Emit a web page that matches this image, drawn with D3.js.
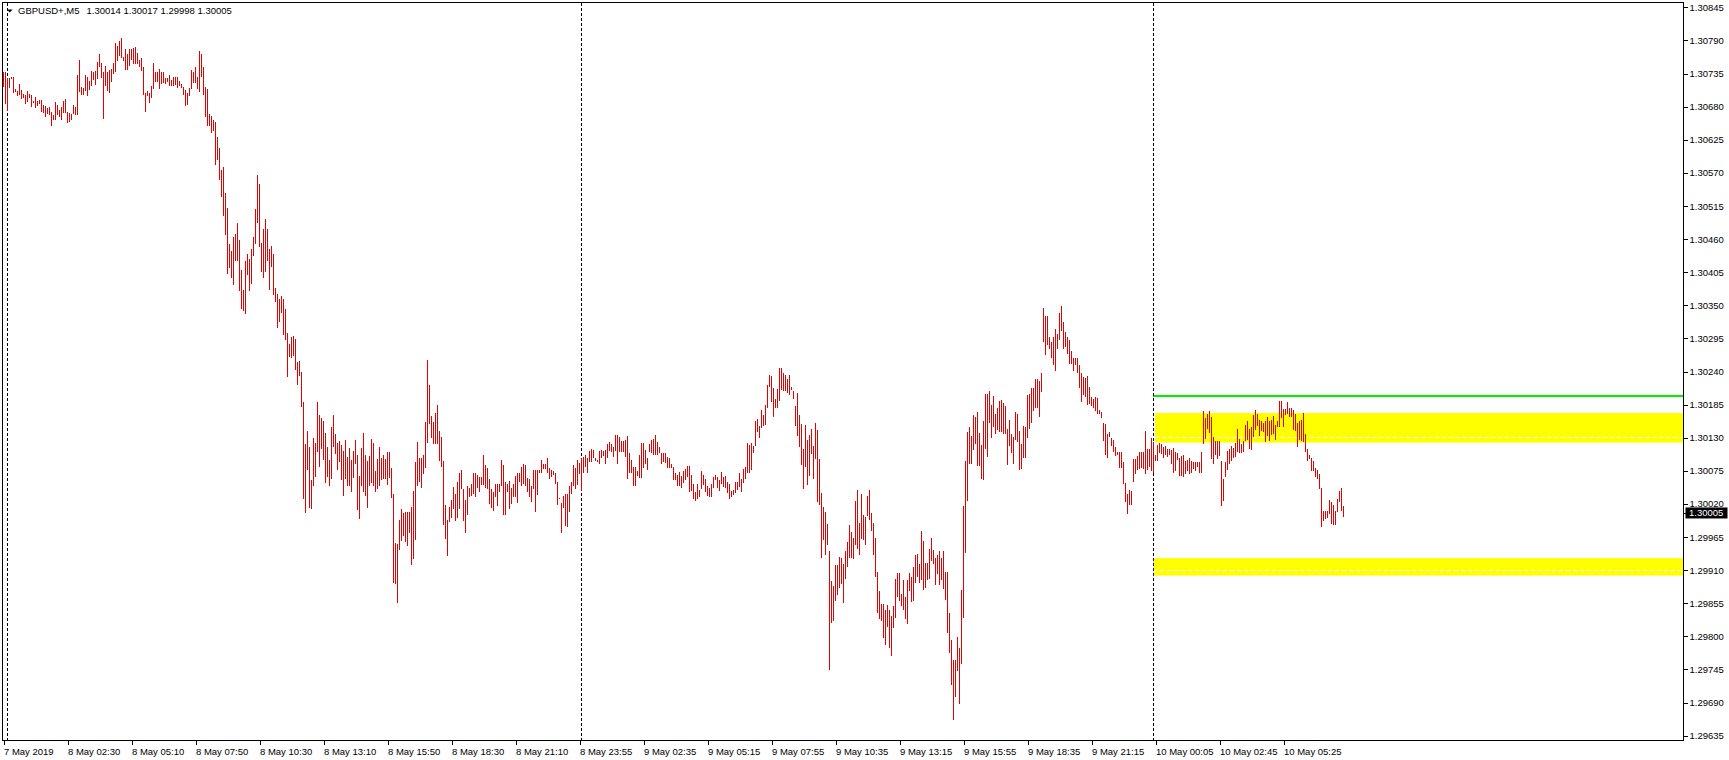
<!DOCTYPE html>
<html><head><meta charset="utf-8">
<script src="https://cdn.jsdelivr.net/npm/d3@7"></script>
<style>
html,body{margin:0;padding:0;background:#fff;}
svg{display:block;}
text{font-family:"Liberation Sans",Arial,sans-serif;font-size:9.5px;fill:#000;}
</style>
</head><body>
<svg id="chart" width="1729" height="760"></svg>
<script>
// ---------------- DATA ----------------
const symbol = "GBPUSD+,M5";
const lastOHLC = [1.30014, 1.30017, 1.29998, 1.30005];

const high = [
1.30737,1.30738,1.30727,1.30727,1.30729,1.30729,1.30709,1.30706,1.30717,1.30708,
1.30701,1.30699,1.30706,1.30701,1.30699,1.30689,1.30696,1.30689,1.30691,1.30691,
1.30683,1.30681,1.30678,1.30680,1.30671,1.30666,1.30688,1.30683,1.30675,1.30680,
1.30689,1.30692,1.30671,1.30669,1.30667,1.30683,1.30680,1.30732,1.30757,1.30713,
1.30711,1.30732,1.30729,1.30722,1.30740,1.30738,1.30740,1.30754,1.30767,1.30753,
1.30737,1.30748,1.30738,1.30741,1.30743,1.30753,1.30786,1.30781,1.30789,1.30794,
1.30763,1.30776,1.30767,1.30776,1.30775,1.30778,1.30779,1.30769,1.30758,1.30761,
1.30746,1.30703,1.30706,1.30703,1.30715,1.30752,1.30738,1.30738,1.30743,1.30737,
1.30738,1.30727,1.30727,1.30732,1.30724,1.30730,1.30730,1.30730,1.30722,1.30717,
1.30712,1.30708,1.30703,1.30711,1.30741,1.30738,1.30746,1.30730,1.30772,1.30767,
1.30746,1.30713,1.30709,1.30668,1.30665,1.30657,1.30654,1.30629,1.30611,1.30575,
1.30579,1.30536,1.30512,1.30452,1.30440,1.30464,1.30469,1.30487,1.30458,1.30408,
1.30375,1.30424,1.30435,1.30427,1.30444,1.30464,1.30510,1.30567,1.30552,1.30454,
1.30477,1.30493,1.30477,1.30444,1.30449,1.30435,1.30378,1.30369,1.30360,1.30366,
1.30360,1.30343,1.30304,1.30285,1.30297,1.30299,1.30294,1.30256,1.30257,1.30239,
1.30190,1.30120,1.30141,1.30115,1.30059,1.30129,1.30121,1.30190,1.30167,1.30163,
1.30157,1.30138,1.30115,1.30093,1.30147,1.30167,1.30136,1.30122,1.30124,
1.30118,1.30108,1.30126,1.30098,1.30113,1.30093,1.30108,1.30126,1.30102,1.30066,
1.30113,1.30138,1.30102,1.30092,1.30099,1.30128,1.30122,1.30075,1.30095,1.30115,
1.30097,1.30102,1.30095,1.30106,1.30106,1.30079,1.30036,1.29955,1.29953,1.29993,
1.30012,1.30005,1.30006,1.30006,1.30007,1.30015,1.30041,1.30089,1.30123,1.30097,
1.30097,1.30101,1.30156,1.30259,1.30218,1.30166,1.30156,1.30171,1.30185,1.30141,
1.30131,1.30091,1.30018,1.29993,1.30015,1.30026,1.30048,1.30036,1.30056,1.30071,
1.30076,1.30045,1.30026,1.30050,1.30046,1.30053,1.30071,1.30072,1.30068,1.30064,
1.30065,1.30102,1.30084,1.30080,1.30061,1.30045,1.30040,1.30053,1.30053,1.30053,
1.30093,1.30085,1.30057,1.30053,1.30058,1.30047,1.30053,1.30066,1.30072,1.30072,
1.30082,1.30086,1.30084,1.30063,1.30062,1.30050,1.30076,1.30076,1.30076,1.30076,
1.30093,1.30086,1.30086,1.30097,1.30079,1.30076,1.30075,1.30072,1.30056,1.30030,
1.30021,1.30034,1.30036,1.30036,1.30049,1.30056,1.30084,1.30079,1.30093,1.30088,
1.30097,1.30098,1.30101,1.30096,1.30108,1.30111,1.30110,1.30097,1.30093,1.30108,
1.30110,1.30108,1.30110,1.30120,1.30123,1.30119,1.30115,1.30134,1.30134,1.30132,
1.30125,1.30125,1.30126,1.30133,1.30104,1.30093,1.30082,1.30082,1.30075,1.30101,
1.30122,1.30122,1.30110,1.30097,1.30120,1.30126,1.30128,1.30134,1.30123,1.30115,
1.30104,1.30104,1.30104,1.30098,1.30096,1.30087,1.30081,1.30072,1.30068,1.30073,
1.30066,1.30075,1.30078,1.30083,1.30083,1.30068,1.30053,1.30039,1.30053,1.30043,
1.30075,1.30068,1.30061,1.30049,1.30047,1.30053,1.30064,1.30068,1.30064,1.30060,
1.30073,1.30064,1.30066,1.30056,1.30053,1.30042,1.30043,1.30056,1.30056,1.30071,
1.30061,1.30078,1.30082,1.30121,1.30118,1.30122,1.30116,1.30157,1.30161,1.30150,
1.30176,1.30167,1.30184,1.30218,1.30234,1.30232,1.30212,1.30194,1.30211,1.30245,
1.30245,1.30237,1.30234,1.30227,1.30234,1.30215,1.30208,1.30183,1.30205,1.30168,
1.30153,1.30111,1.30151,1.30126,1.30134,1.30144,1.30116,1.30155,1.30143,1.30095,
1.30038,1.30015,1.30007,1.29987,1.29942,1.29892,1.29884,1.29919,1.29919,1.29932,
1.29931,1.29921,1.29942,1.29956,1.29985,1.29974,1.29963,1.30025,1.30043,1.29989,
1.30036,1.30002,1.29998,1.30033,1.30043,1.30005,1.29989,1.29964,1.29907,1.29875,
1.29854,1.29854,1.29843,1.29852,1.29843,1.29834,1.29850,1.29895,1.29906,1.29906,
1.29871,1.29893,1.29865,1.29894,1.29906,1.29899,1.29915,1.29935,1.29937,1.29921,
1.29975,1.29958,1.29922,1.29922,1.29945,1.29964,1.29943,1.29931,1.29935,1.29942,
1.29931,1.29941,1.29907,1.29907,1.29839,1.29794,1.29761,1.29761,1.29799,1.29781,
1.29877,1.30017,1.30092,1.30140,1.30147,1.30133,1.30168,1.30165,1.30172,1.30138,
1.30118,1.30158,1.30203,1.30203,1.30208,1.30184,1.30199,1.30169,1.30180,1.30191,
1.30193,1.30188,1.30183,1.30144,1.30159,1.30136,1.30131,1.30172,1.30169,1.30141,
1.30120,1.30149,1.30147,1.30201,1.30202,1.30212,1.30213,1.30227,1.30227,1.30224,
1.30238,1.30346,1.30333,1.30332,1.30298,1.30289,1.30297,1.30310,1.30302,1.30338,
1.30349,1.30322,1.30305,1.30297,1.30292,1.30274,1.30263,1.30263,1.30262,1.30250,
1.30238,1.30231,1.30230,1.30233,1.30214,1.30198,1.30194,1.30197,1.30196,1.30176,
1.30173,1.30154,1.30153,1.30136,1.30140,1.30129,1.30127,1.30115,1.30107,1.30107,
1.30106,1.30089,1.30055,1.30036,1.30043,1.30041,1.30094,1.30094,1.30099,1.30107,
1.30107,1.30107,1.30141,1.30112,1.30111,1.30129,1.30123,1.30101,1.30118,1.30122,
1.30120,1.30115,1.30116,1.30112,1.30111,1.30110,1.30113,1.30107,1.30105,1.30097,
1.30100,1.30102,1.30092,1.30093,1.30096,1.30092,1.30089,1.30089,1.30089,1.30089,
1.30107,1.30175,1.30162,1.30169,1.30174,1.30165,1.30132,1.30125,1.30125,1.30125,
1.30092,1.30061,1.30089,1.30108,1.30111,1.30116,1.30113,1.30121,1.30144,1.30128,
1.30119,1.30125,1.30151,1.30157,1.30145,1.30147,1.30168,1.30176,1.30170,1.30159,
1.30158,1.30155,1.30158,1.30164,1.30158,1.30159,1.30166,1.30151,1.30158,1.30191,
1.30191,1.30178,1.30177,1.30189,1.30179,1.30179,1.30176,1.30170,1.30155,1.30157,
1.30160,1.30171,1.30136,1.30111,1.30102,1.30097,1.30092,1.30079,1.30076,1.30070,
1.30047,1.30008,1.30008,1.30008,1.30026,1.30024,1.30019,1.30009,1.30028,1.30041,
1.30046,1.30017
];

const low = [
1.30712,1.30684,1.30672,1.30711,1.30726,1.30702,1.30705,1.30697,1.30700,1.30692,
1.30694,1.30685,1.30688,1.30694,1.30680,1.30686,1.30677,1.30681,1.30685,1.30671,
1.30670,1.30663,1.30667,1.30666,1.30648,1.30657,1.30657,1.30666,1.30662,1.30657,
1.30669,1.30669,1.30652,1.30654,1.30658,1.30667,1.30666,1.30666,1.30704,1.30700,
1.30700,1.30706,1.30697,1.30707,1.30714,1.30724,1.30716,1.30726,1.30746,1.30727,
1.30659,1.30715,1.30706,1.30702,1.30721,1.30735,1.30737,1.30756,1.30764,1.30761,
1.30755,1.30741,1.30741,1.30748,1.30757,1.30751,1.30751,1.30751,1.30746,1.30740,
1.30700,1.30671,1.30697,1.30686,1.30695,1.30709,1.30721,1.30721,1.30709,1.30718,
1.30720,1.30718,1.30721,1.30715,1.30715,1.30715,1.30716,1.30711,1.30715,1.30711,
1.30700,1.30681,1.30683,1.30697,1.30709,1.30720,1.30720,1.30709,1.30705,1.30730,
1.30700,1.30663,1.30648,1.30647,1.30637,1.30639,1.30583,1.30591,1.30558,1.30530,
1.30498,1.30467,1.30402,1.30412,1.30395,1.30383,1.30423,1.30424,1.30374,1.30343,
1.30340,1.30335,1.30400,1.30374,1.30386,1.30432,1.30452,1.30487,1.30447,1.30405,
1.30395,1.30405,1.30424,1.30375,1.30414,1.30367,1.30355,1.30313,1.30322,1.30337,
1.30300,1.30292,1.30231,1.30264,1.30263,1.30265,1.30243,1.30218,1.30233,1.30181,
1.30028,1.30005,1.30077,1.30013,1.30012,1.30049,1.30064,1.30107,1.30082,1.30111,
1.30093,1.30055,1.30064,1.30049,1.30062,1.30114,1.30103,1.30077,1.30090,
1.30060,1.30034,1.30062,1.30049,1.30050,1.30040,1.30063,1.30086,1.30010,1.29995,
1.30050,1.30040,1.30034,1.30014,1.30049,1.30054,1.30049,1.30040,1.30044,1.30050,
1.30060,1.30061,1.30062,1.30051,1.30063,1.30030,1.29888,1.29887,1.29856,1.29943,
1.29959,1.29967,1.29957,1.29950,1.29971,1.29918,1.29928,1.29960,1.30050,1.30057,
1.30047,1.30070,1.30079,1.30122,1.30152,1.30130,1.30119,1.30119,1.30120,1.30092,
1.30082,1.29985,1.29961,1.29934,1.29990,1.29997,1.30011,1.29991,1.29997,1.30012,
1.30044,1.29991,1.29972,1.30002,1.30031,1.30034,1.30036,1.30032,1.30047,1.30040,
1.30051,1.30051,1.30047,1.30045,1.30020,1.30014,1.30009,1.30031,1.30017,1.30040,
1.30050,1.30002,1.30002,1.30040,1.30011,1.30020,1.30032,1.30032,1.30021,1.30057,
1.30050,1.30053,1.30050,1.30040,1.30031,1.30024,1.30044,1.30007,1.30035,1.30071,
1.30072,1.30078,1.30078,1.30072,1.30062,1.30065,1.30068,1.30053,1.30019,1.30028,
1.29972,1.30014,1.29984,1.29982,1.30007,1.30036,1.30049,1.30044,1.30052,1.30069,
1.30042,1.30071,1.30082,1.30071,1.30089,1.30089,1.30097,1.30091,1.30090,1.30087,
1.30097,1.30100,1.30086,1.30097,1.30108,1.30107,1.30098,1.30108,1.30086,1.30107,
1.30107,1.30107,1.30098,1.30061,1.30071,1.30072,1.30050,1.30050,1.30066,1.30063,
1.30063,1.30080,1.30086,1.30077,1.30106,1.30104,1.30102,1.30102,1.30101,1.30104,
1.30087,1.30090,1.30088,1.30080,1.30079,1.30080,1.30060,1.30060,1.30049,1.30049,
1.30047,1.30054,1.30059,1.30064,1.30040,1.30042,1.30029,1.30025,1.30029,1.30032,
1.30044,1.30051,1.30040,1.30033,1.30032,1.30032,1.30047,1.30060,1.30046,1.30042,
1.30053,1.30048,1.30047,1.30038,1.30029,1.30031,1.30035,1.30038,1.30043,1.30048,
1.30040,1.30055,1.30062,1.30071,1.30072,1.30077,1.30105,1.30116,1.30140,1.30130,
1.30146,1.30149,1.30151,1.30179,1.30214,1.30190,1.30165,1.30179,1.30180,1.30191,
1.30209,1.30208,1.30208,1.30205,1.30201,1.30209,1.30194,1.30150,1.30133,1.30115,
1.30085,1.30045,1.30082,1.30051,1.30067,1.30103,1.30061,1.30095,1.30024,1.30018,
1.29931,1.29960,1.29935,1.29952,1.29744,1.29823,1.29826,1.29858,1.29868,1.29881,
1.29887,1.29856,1.29895,1.29916,1.29931,1.29931,1.29928,1.29952,1.29945,1.29935,
1.29961,1.29960,1.29951,1.30000,1.29994,1.29975,1.29935,1.29899,1.29839,1.29829,
1.29826,1.29798,1.29785,1.29816,1.29780,1.29768,1.29814,1.29831,1.29866,1.29859,
1.29850,1.29843,1.29829,1.29821,1.29876,1.29857,1.29859,1.29889,1.29899,1.29889,
1.29894,1.29877,1.29881,1.29893,1.29895,1.29925,1.29920,1.29886,1.29904,1.29886,
1.29893,1.29879,1.29860,1.29806,1.29773,1.29719,1.29661,1.29700,1.29743,1.29687,
1.29754,1.29831,1.29939,1.30025,1.30086,1.30086,1.30110,1.30120,1.30083,1.30083,
1.30061,1.30060,1.30111,1.30098,1.30155,1.30130,1.30148,1.30136,1.30143,1.30140,
1.30139,1.30136,1.30136,1.30085,1.30117,1.30105,1.30087,1.30126,1.30123,1.30077,
1.30078,1.30096,1.30097,1.30129,1.30144,1.30154,1.30175,1.30180,1.30180,1.30165,
1.30206,1.30289,1.30268,1.30284,1.30277,1.30262,1.30250,1.30241,1.30277,1.30292,
1.30308,1.30278,1.30281,1.30269,1.30253,1.30252,1.30241,1.30250,1.30238,1.30212,
1.30190,1.30201,1.30198,1.30184,1.30186,1.30183,1.30180,1.30174,1.30170,1.30169,
1.30163,1.30125,1.30101,1.30097,1.30132,1.30117,1.30107,1.30100,1.30101,1.30080,
1.30080,1.30053,1.30024,1.30003,1.30018,1.30018,1.30057,1.30070,1.30077,1.30078,
1.30079,1.30078,1.30070,1.30076,1.30082,1.30075,1.30072,1.30091,1.30092,1.30104,
1.30103,1.30097,1.30101,1.30098,1.30102,1.30087,1.30072,1.30075,1.30093,1.30067,
1.30067,1.30065,1.30070,1.30075,1.30070,1.30072,1.30078,1.30075,1.30081,1.30072,
1.30072,1.30120,1.30128,1.30144,1.30138,1.30095,1.30086,1.30101,1.30095,1.30100,
1.30017,1.30025,1.30065,1.30076,1.30086,1.30092,1.30097,1.30098,1.30107,1.30104,
1.30104,1.30107,1.30124,1.30127,1.30111,1.30110,1.30132,1.30142,1.30149,1.30133,
1.30141,1.30140,1.30123,1.30133,1.30125,1.30134,1.30136,1.30126,1.30147,1.30147,
1.30163,1.30147,1.30167,1.30169,1.30165,1.30164,1.30143,1.30141,1.30115,1.30126,
1.30124,1.30123,1.30107,1.30092,1.30094,1.30075,1.30075,1.30065,1.30062,1.30044,
1.29982,1.29992,1.29995,1.29997,1.30004,1.29986,1.29985,1.29985,1.30006,1.30024,
1.30009,1.29998
];

// time axis labels, one every 32 bars (bar index = 32 * k)
const timeLabels = [
"7 May 2019","8 May 02:30","8 May 05:10","8 May 07:50","8 May 10:30","8 May 13:10",
"8 May 15:50","8 May 18:30","8 May 21:10","8 May 23:55","9 May 02:35","9 May 05:15",
"9 May 07:55","9 May 10:35","9 May 13:15","9 May 15:55","9 May 18:35","9 May 21:15",
"10 May 00:05","10 May 02:45","10 May 05:25"
];
const labelStep = 32;

const priceTicks = [
1.30845,1.30790,1.30735,1.30680,1.30625,1.30570,1.30515,1.30460,1.30405,1.30350,
1.30295,1.30240,1.30185,1.30130,1.30075,1.30020,1.29965,1.29910,1.29855,1.29800,
1.29745,1.29690,1.29635
];

// bar indices of daily period separators (8, 9, 10 May 00:00)
const daySeparators = [2, 289, 575];

// drawn objects
const greenLevel = 1.30200;
const zoneTop    = [1.30171, 1.29930];
const zoneBottom = [1.30122, 1.29901];
const zoneLine   = [1.30131, 1.29910];

// ---------------- CHART ----------------
(function draw() {
  const W = 1729, H = 760;
  const pL = 2.5, pT = 2.5, pR = 1683.5, pB = 740.5;
  const n = Math.min(high.length, low.length);
  const fontFam = '"Liberation Sans",Arial,sans-serif';
  const fs = "9.5px";

  const svg = d3.select("#chart");
  svg.append("rect").attr("width", W).attr("height", H).attr("fill", "#fff");

  const x = d3.scaleLinear().domain([0, 1]).range([3.5, 5.5]);
  const y = d3.scaleLinear().domain([1.29635, 1.30845]).range([735.7, 7.3]);

  const objStartX = x(daySeparators[2]);

  // yellow zones
  const zg = svg.append("g");
  zoneTop.forEach((t, i) => {
    const x0 = i === 0 ? objStartX + 1.5 : objStartX - 0.5;
    zg.append("rect")
      .attr("x", x0).attr("y", y(t))
      .attr("width", pR - x0).attr("height", y(zoneBottom[i]) - y(t))
      .attr("fill", "#ffff00");
    const ly = Math.round(y(zoneLine[i])) + 0.5;
    zg.append("line")
      .attr("x1", x0).attr("x2", pR)
      .attr("y1", ly).attr("y2", ly)
      .attr("stroke", "#fff").attr("stroke-width", 1).attr("stroke-dasharray", "4,3")
      .attr("shape-rendering", "crispEdges");
  });

  // green level
  svg.append("line")
    .attr("x1", objStartX - 0.5).attr("x2", pR)
    .attr("y1", y(greenLevel)).attr("y2", y(greenLevel))
    .attr("stroke", "#00ee00").attr("stroke-width", 2)
    .attr("shape-rendering", "crispEdges");

  // period separators
  svg.append("g").selectAll("line").data(daySeparators).join("line")
    .attr("x1", d => x(d)).attr("x2", d => x(d))
    .attr("y1", pT).attr("y2", pB)
    .attr("stroke", "#000").attr("stroke-width", 1).attr("stroke-dasharray", "3,2")
    .attr("shape-rendering", "crispEdges");
  // separator appears inverted (blue) where it crosses the lower zone
  svg.append("line")
    .attr("x1", x(daySeparators[2])).attr("x2", x(daySeparators[2]))
    .attr("y1", y(zoneTop[1])).attr("y2", y(zoneBottom[1]))
    .attr("stroke", "#0000ff").attr("stroke-width", 1).attr("stroke-dasharray", "3,2")
    .attr("shape-rendering", "crispEdges");

  // bars (high-low)
  svg.append("g").selectAll("line").data(d3.range(n)).join("line")
    .attr("x1", i => x(i)).attr("x2", i => x(i))
    .attr("y1", i => Math.round(y(high[i])))
    .attr("y2", i => Math.max(Math.round(y(low[i])), Math.round(y(high[i])) + 1))
    .attr("stroke", "#e60000").attr("stroke-width", 1)
    .attr("shape-rendering", "crispEdges");

  // frame
  svg.append("rect")
    .attr("x", pL).attr("y", pT).attr("width", pR - pL).attr("height", pB - pT)
    .attr("fill", "none").attr("stroke", "#000").attr("stroke-width", 1)
    .attr("shape-rendering", "crispEdges");

  // bottom time axis
  const xAxis = d3.axisBottom(x)
    .tickValues(timeLabels.map((_, k) => k * labelStep))
    .tickFormat((d, k) => timeLabels[k])
    .tickSize(4).tickSizeOuter(0);
  const gx = svg.append("g").attr("transform", `translate(0,${pB})`).call(xAxis);
  gx.select(".domain").remove();
  gx.selectAll(".tick line").attr("stroke", "#000").attr("shape-rendering", "crispEdges");
  gx.selectAll(".tick text")
    .attr("text-anchor", "start").attr("x", 0).attr("y", 7.5)
    .style("font-family", fontFam).style("font-size", fs).attr("fill", "#000");

  // right price axis
  const yAxis = d3.axisRight(y)
    .tickValues(priceTicks)
    .tickFormat(d3.format(".5f"))
    .tickSize(4).tickPadding(2).tickSizeOuter(0);
  const gy = svg.append("g").attr("transform", `translate(${pR},0)`).call(yAxis);
  gy.select(".domain").remove();
  gy.selectAll(".tick line").attr("stroke", "#000").attr("shape-rendering", "crispEdges");
  gy.selectAll(".tick text")
    .style("font-family", fontFam).style("font-size", fs).attr("fill", "#000");

  // current price label
  const closeY = y(lastOHLC[3]);
  svg.append("line").attr("x1", pR).attr("x2", pR + 3)
    .attr("y1", Math.round(closeY) + 0.5).attr("y2", Math.round(closeY) + 0.5)
    .attr("stroke", "#000").attr("shape-rendering", "crispEdges");
  svg.append("rect").attr("x", pR + 2).attr("y", closeY - 5.5)
    .attr("width", 42).attr("height", 11).attr("fill", "#000");
  svg.append("text").attr("x", pR + 5.5).attr("y", closeY).attr("dy", "0.34em")
    .style("fill", "#fff").text(d3.format(".5f")(lastOHLC[3]));

  // title
  svg.append("path").attr("d", "M7,9.5 L12.6,9.5 L9.8,12.6 Z").attr("fill", "#000");
  const t1 = svg.append("text").attr("x", 18).attr("y", 13.5).text(symbol);
  const len = t1.node().getComputedTextLength();
  svg.append("text").attr("x", 18 + len + 7).attr("y", 13.5)
    .text(lastOHLC.map(d3.format(".5f")).join(" "));
})();
</script>
</body></html>
